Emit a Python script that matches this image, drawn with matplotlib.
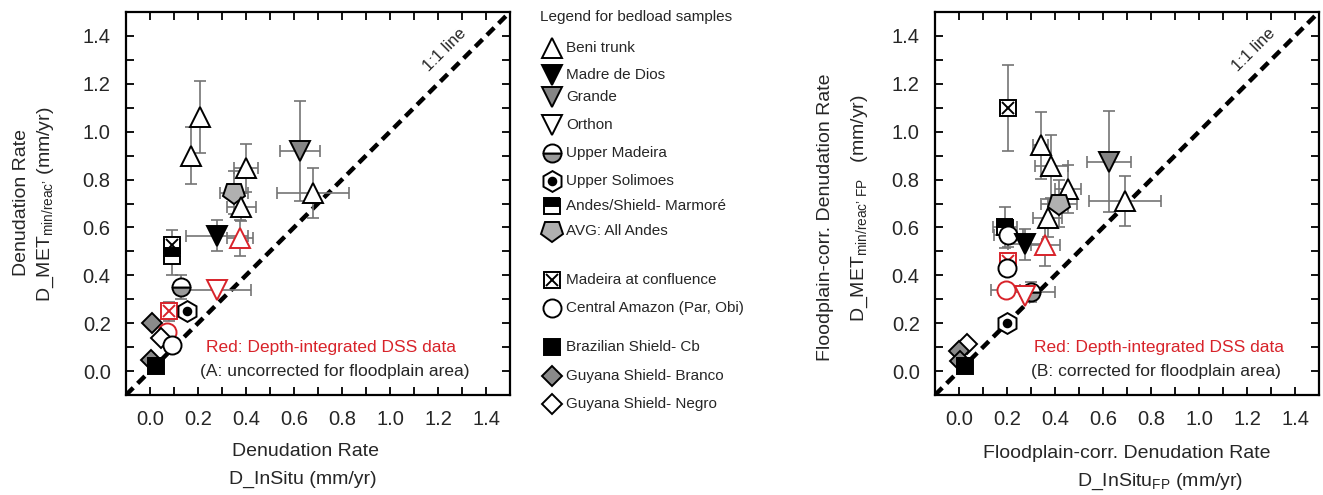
import numpy as np
import matplotlib

matplotlib.use("Agg")
import matplotlib.pyplot as plt
from matplotlib.markers import MarkerStyle
from matplotlib.ticker import MultipleLocator
from matplotlib.transforms import Affine2D

plt.rcParams["font.family"] = ["Liberation Sans", "DejaVu Sans"]
plt.rcParams["mathtext.fontset"] = "custom"
plt.rcParams["mathtext.rm"] = "Liberation Sans"
plt.rcParams["mathtext.it"] = "Liberation Sans"
plt.rcParams["mathtext.default"] = "regular"

RED = "#d8232a"
TXT = "#262626"
ERR = "#747474"

# legend entries (sample groups)
kinds = ["beni", "madre", "grande", "orthon", "upmad", "upsol", "marmore", "avg",
         "conf", "central", "brazil", "branco", "negro"]
labels = ["Beni trunk", "Madre de Dios", "Grande", "Orthon", "Upper Madeira",
          "Upper Solimoes", "Andes/Shield- Marmoré", "AVG: All Andes",
          "Madeira at confluence", "Central Amazon (Par, Obi)",
          "Brazilian Shield- Cb", "Guyana Shield- Branco", "Guyana Shield- Negro"]

# panel A: uncorrected
a_kind = ["beni", "beni", "beni", "avg", "beni", "grande", "beni", "madre", "beni",
          "conf", "marmore", "upmad", "orthon", "conf", "upsol", "branco", "central",
          "negro", "central", "branco", "brazil"]
a_red = [0, 0, 0, 0, 0, 0, 0, 0, 1, 0, 0, 0, 1, 1, 0, 0, 1, 0, 0, 0, 0]
a_x = [0.21, 0.17, 0.40, 0.35, 0.38, 0.625, 0.68, 0.28, 0.375, 0.09, 0.09, 0.13,
       0.28, 0.08, 0.155, 0.01, 0.07, 0.045, 0.09, 0.005, 0.025]
a_y = [1.06, 0.90, 0.85, 0.745, 0.685, 0.92, 0.745, 0.565, 0.555, 0.525, 0.48, 0.35,
       0.34, 0.25, 0.25, 0.20, 0.165, 0.14, 0.11, 0.045, 0.02]
a_xerr = [0, 0, 0.05, 0.06, 0.06, 0.085, 0.15, 0.13, 0.055, 0, 0, 0,
          0.14, 0.02, 0, 0, 0, 0, 0, 0, 0]
a_yerr = [0.15, 0.12, 0.10, 0.09, 0.06, 0.21, 0.105, 0.065, 0.075, 0.065, 0.08, 0.05,
          0, 0.04, 0, 0, 0, 0, 0, 0, 0]

# panel B: floodplain corrected
b_kind = ["conf", "beni", "beni", "beni", "avg", "beni", "grande", "beni", "marmore",
          "central", "madre", "beni", "conf", "central", "central", "upmad", "orthon",
          "upsol", "negro", "branco", "branco", "brazil"]
b_red = [0, 0, 0, 0, 0, 0, 0, 0, 0, 0, 0, 1, 1, 0, 1, 0, 1, 0, 0, 0, 0, 0]
b_x = [0.205, 0.34, 0.385, 0.455, 0.415, 0.37, 0.625, 0.69, 0.19, 0.205, 0.275, 0.36,
       0.205, 0.20, 0.195, 0.30, 0.275, 0.20, 0.035, 0.0, 0.005, 0.025]
b_y = [1.10, 0.943, 0.855, 0.76, 0.70, 0.64, 0.875, 0.71, 0.60, 0.57, 0.53, 0.525,
       0.46, 0.43, 0.34, 0.33, 0.315, 0.20, 0.115, 0.085, 0.04, 0.02]
b_xerr = [0, 0.03, 0.07, 0.055, 0.075, 0.06, 0.09, 0.15, 0.05, 0.06, 0.07, 0.06,
          0, 0, 0.06, 0.10, 0, 0, 0, 0, 0, 0]
b_yerr = [0.18, 0.14, 0.13, 0.10, 0.10, 0.08, 0.21, 0.105, 0.085, 0.05, 0.065, 0.085,
          0.03, 0.03, 0, 0.04, 0, 0, 0, 0, 0, 0]

PENT = MarkerStyle("p", transform=Affine2D().rotate_deg(180))


def draw(ax, x, y, kind, red=0, z=3):
    ec = RED if red else "black"
    kw = dict(ls="none", mec=ec, mew=1.4, zorder=z, clip_on=False)
    if kind == "beni":
        ax.plot(x, y, "^", ms=15, mfc="white", **kw)
    elif kind == "madre":
        ax.plot(x, y, "v", ms=15, mfc="black", **kw)
    elif kind == "grande":
        ax.plot(x, y, "v", ms=15, mfc="#858585", **kw)
    elif kind == "orthon":
        ax.plot(x, y, "v", ms=15, mfc="white", **kw)
    elif kind == "upmad":
        ax.plot(x, y, "o", ms=13, fillstyle="bottom", mfc="#9a9a9a",
                markerfacecoloralt="white", **kw)
    elif kind == "upsol":
        ax.plot(x, y, "h", ms=15, mfc="white", **kw)
        ax.plot(x, y, "o", ms=5.5, mfc=ec, **kw)
    elif kind == "marmore":
        ax.plot(x, y, "s", ms=11, fillstyle="top", mfc="black",
                markerfacecoloralt="white", **kw)
    elif kind == "avg":
        ax.plot(x, y, marker=PENT, ms=16, mfc="#b0b0b0", **kw)
    elif kind == "conf":
        ax.plot(x, y, "s", ms=11, mfc="white", **kw)
        ax.plot(x, y, "x", ms=8, color=ec, **kw)
    elif kind == "central":
        ax.plot(x, y, "o", ms=13, mfc="white", **kw)
    elif kind == "brazil":
        ax.plot(x, y, "s", ms=11, mfc="black", **kw)
    elif kind == "branco":
        ax.plot(x, y, "D", ms=10, mfc="#8a8a8a", **kw)
    elif kind == "negro":
        ax.plot(x, y, "D", ms=10, mfc="white", **kw)


def panel(ax, xs, ys, xe, ye, ks, reds, note):
    ax.set_xlim(-0.1, 1.5)
    ax.set_ylim(-0.1, 1.5)
    for axis in (ax.xaxis, ax.yaxis):
        axis.set_major_locator(MultipleLocator(0.2))
        axis.set_minor_locator(MultipleLocator(0.1))
    ax.tick_params(which="both", direction="in", top=True, right=True, length=6,
                   width=1.3, labelsize=14.5, labelcolor=TXT, pad=11)
    for s in ax.spines.values():
        s.set_linewidth(1.6)
    ax.plot([-0.1, 1.5], [-0.1, 1.5], ls=(0, (2.3, 1.4)), lw=3.2, color="black", zorder=2)
    ax.text(1.23, 1.34, "1:1 line", rotation=45, ha="center", va="center",
            fontsize=12, color=TXT)
    ax.errorbar(xs, ys, xerr=xe, yerr=ye, fmt="none", ecolor=ERR, elinewidth=1.2,
                capsize=4.5, capthick=1.2, zorder=2.5)
    for x, y, k, r in zip(xs, ys, ks, reds):
        draw(ax, x, y, k, r)
    ax.text(note[0], 0.10, "Red: Depth-integrated DSS data", color=RED, fontsize=12.5,
            va="center")
    ax.text(note[1], 0.0, note[2], color=TXT, fontsize=12.5, va="center")


W, H = 1323, 495
fig = plt.figure(figsize=(W / 100, H / 100), dpi=100)
axA = fig.add_axes([126 / W, 1 - 395 / H, 384 / W, 383 / H])
axB = fig.add_axes([935 / W, 1 - 395 / H, 384 / W, 383 / H])

panel(axA, a_x, a_y, a_xerr, a_yerr, a_kind, a_red,
      (0.232, 0.207, "(A: uncorrected for floodplain area)"))
panel(axB, b_x, b_y, b_xerr, b_yerr, b_kind, b_red,
      (0.314, 0.30, "(B: corrected for floodplain area)"))


def ftext(px, py, s, **kw):
    fig.text(px / W, 1 - py / H, s, ha="center", va="center", color=TXT, **kw)


ftext(305, 451, "Denudation Rate", fontsize=14)
ftext(303, 479, "D_InSitu (mm/yr)", fontsize=14)
ftext(1127, 453, "Floodplain-corr. Denudation Rate", fontsize=14)
ftext(1160, 482, "D_InSitu$_{FP}$ (mm/yr)", fontsize=14)
ftext(22, 202, "Denudation Rate", fontsize=14, rotation=90)
ftext(46, 204, "D_MET$_{min/reac\u2019}$ (mm/yr)", fontsize=14, rotation=90)
ftext(825, 217, "Floodplain-corr. Denudation Rate", fontsize=14, rotation=90)
ftext(860, 208, "D_MET$_{min/reac\u2019\\ FP}$   (mm/yr)", fontsize=14, rotation=90)

# legend drawn on an overlay in pixel units
leg = fig.add_axes([0, 0, 1, 1], zorder=-1)
leg.set_xlim(0, W)
leg.set_ylim(H, 0)
leg.axis("off")
leg.text(540, 17, "Legend for bedload samples", fontsize=11, color=TXT, va="center")
leg_y = [48, 75, 97, 125, 153, 181, 206, 231, 280, 308, 347, 376, 404]
for k, lab, yy in zip(kinds, labels, leg_y):
    draw(leg, 552, yy, k)
    leg.text(566, yy, lab, fontsize=11, color=TXT, va="center")

fig.savefig("out.png", dpi=100)
